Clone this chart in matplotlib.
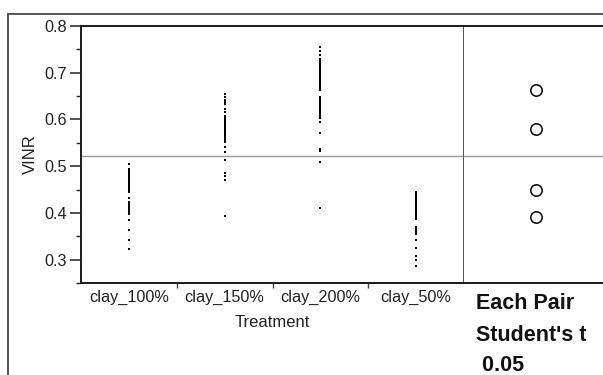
import matplotlib
matplotlib.use("Agg")
import matplotlib.pyplot as plt
from matplotlib.lines import Line2D
from matplotlib.ticker import MultipleLocator, FixedLocator

plt.rcParams['font.family'] = ['Liberation Sans', 'DejaVu Sans']

categories = ["clay_100%", "clay_150%", "clay_200%", "clay_50%"]

clay_100 = [0.504, 0.495, 0.491, 0.487, 0.483, 0.479, 0.475, 0.471, 0.467, 0.463,
            0.459, 0.455, 0.451, 0.447, 0.444, 0.432, 0.423, 0.419, 0.415, 0.411,
            0.407, 0.403, 0.399, 0.397, 0.384, 0.364, 0.341, 0.323]
clay_150 = [0.654, 0.647, 0.642, 0.638, 0.633, 0.623, 0.616, 0.608, 0.604, 0.600,
            0.596, 0.592, 0.588, 0.584, 0.580, 0.576, 0.572, 0.568, 0.564, 0.560,
            0.556, 0.552, 0.540, 0.531, 0.514, 0.486, 0.479, 0.470, 0.393]
clay_200 = [0.754, 0.747, 0.738, 0.729, 0.725, 0.721, 0.717, 0.713, 0.709, 0.705,
            0.701, 0.697, 0.693, 0.689, 0.685, 0.681, 0.677, 0.673, 0.669, 0.665,
            0.663, 0.648, 0.644, 0.640, 0.636, 0.632, 0.628, 0.624, 0.620, 0.616,
            0.612, 0.608, 0.604, 0.595, 0.570, 0.536, 0.532, 0.509, 0.411]
clay_50 = [0.444, 0.440, 0.436, 0.432, 0.428, 0.424, 0.420, 0.416, 0.412, 0.408,
           0.404, 0.400, 0.396, 0.392, 0.387, 0.370, 0.366, 0.362, 0.358, 0.354,
           0.341, 0.325, 0.307, 0.300, 0.287]
series = [clay_100, clay_150, clay_200, clay_50]

group_means = [0.448, 0.579, 0.663, 0.392]
grand_mean = 0.521

y_min, y_max = 0.25, 0.8
annot_lines = ["Each Pair", "Student's t", " 0.05"]

W, H = 603, 375
fig = plt.figure(figsize=(W / 100, H / 100), dpi=100)

def fx(px):
    return px / W

def fy(py):
    return 1 - py / H

L, R, T, B = 81, 464, 26, 283
ax = fig.add_axes([fx(L), fy(B), fx(R) - fx(L), fy(T) - fy(B)])
ax2 = fig.add_axes([fx(R), fy(B), 1 - fx(R), fy(T) - fy(B)])

for i, vals in enumerate(series):
    ax.plot([i] * len(vals), vals, 's', color='black', markersize=2.0,
            markeredgewidth=0)

ax.set_xlim(-0.5, 3.5)
ax.set_ylim(y_min, y_max)
ax.axhline(grand_mean, color='#9a9a9a', lw=1.0)

ax.yaxis.set_minor_locator(MultipleLocator(0.05))
ax.set_yticks([0.3, 0.4, 0.5, 0.6, 0.7, 0.8])
ax.set_yticklabels(["0.3", "0.4", "0.5", "0.6", "0.7", "0.8"])
ax.tick_params(axis='y', which='major', length=8, width=1.1, labelsize=11.7,
               pad=2, colors='#222222')
ax.tick_params(axis='y', which='minor', length=3.8, width=1.0, color='#222222')

ax.set_xticks(range(len(categories)))
ax.set_xticklabels(categories)
ax.xaxis.set_minor_locator(FixedLocator([0.5, 1.5, 2.5]))
ax.tick_params(axis='x', which='major', length=0, labelsize=11.7, pad=5,
               colors='#222222')
ax.tick_params(axis='x', which='minor', length=3.5, width=1.0, color='#444444')

ax.set_ylabel("VINR", fontsize=12, labelpad=5, color='#222222')
ax.set_xlabel("Treatment", fontsize=12, labelpad=7, color='#222222')

for s in ['left', 'bottom', 'top']:
    ax.spines[s].set_linewidth(1.4)
    ax.spines[s].set_color('#1a1a1a')
ax.spines['right'].set_linewidth(1.4)
ax.spines['right'].set_color('#555555')

# comparison circles panel
ax2.set_xlim(0, 1)
ax2.set_ylim(y_min, y_max)
ax2.axhline(grand_mean, color='#9a9a9a', lw=1.0)
ax2.plot([0.52] * len(group_means), group_means, 'o', markersize=8.2,
         markerfacecolor='white', markeredgecolor='black', markeredgewidth=1.1)
ax2.set_xticks([])
ax2.set_yticks([])
ax2.spines['right'].set_visible(False)
ax2.spines['left'].set_visible(False)
for s in ['top', 'bottom']:
    ax2.spines[s].set_linewidth(1.4)
    ax2.spines[s].set_color('#1a1a1a')

# outer frame
fig.add_artist(Line2D([fx(8), fx(8)], [0, fy(14)], color='#555555', lw=1.4,
                      transform=fig.transFigure))
fig.add_artist(Line2D([fx(8), 1], [fy(14), fy(14)], color='#555555', lw=1.4,
                      transform=fig.transFigure))

baselines = [309, 341, 371]
for txt, by in zip(annot_lines, baselines):
    fig.text(fx(476), fy(by), txt, fontsize=15.5, fontweight='bold',
             ha='left', va='baseline', color='#111111')

fig.savefig("out.png", dpi=100)
